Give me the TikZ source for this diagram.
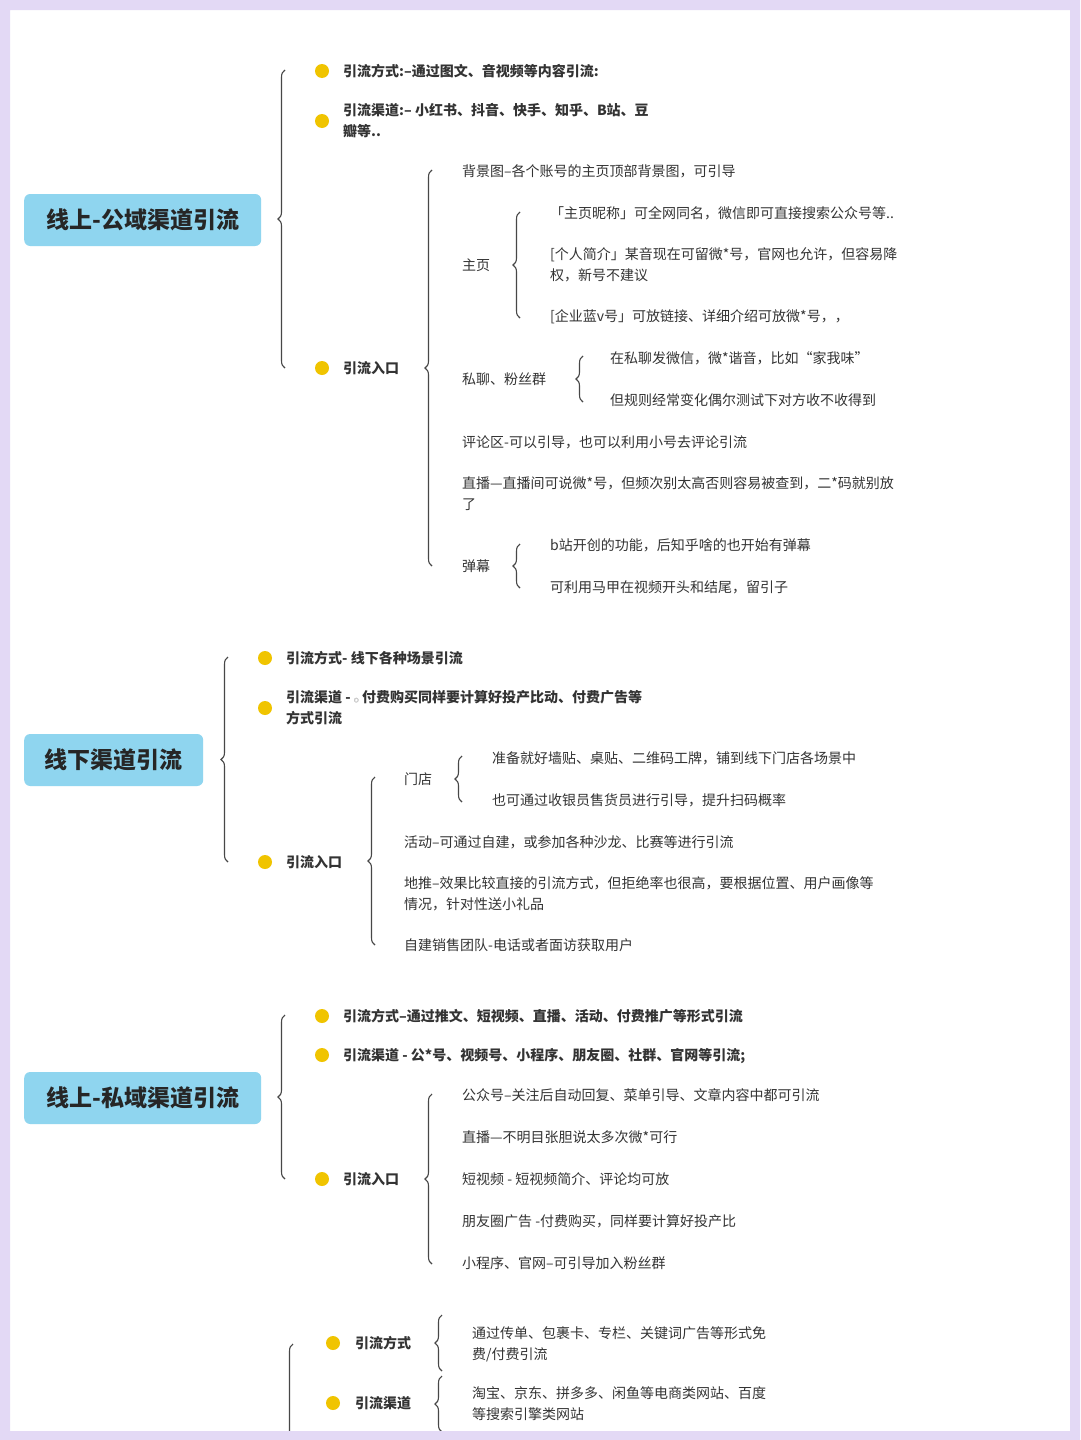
\documentclass[tikz,border=0pt]{standalone}
\usepackage{fontspec}
\setmainfont{Noto Sans CJK SC}
\usetikzlibrary{decorations.pathreplacing}
\definecolor{lav}{HTML}{E3D9F5}
\definecolor{tbox}{HTML}{8FD5EF}
\definecolor{dot}{HTML}{F0C400}
\definecolor{txt}{HTML}{333333}
\tikzset{
  br/.style={draw=txt!90,line width=1.1pt,decorate,decoration={brace,amplitude=7pt}},
  title/.style={fill=tbox,rounded corners=6pt,anchor=west,minimum height=52pt,inner xsep=18pt,font=\fontsize{23}{26}\selectfont\bfseries,text=black!85},
  b/.style={anchor=west,font=\fontsize{14}{21}\selectfont\bfseries,text=txt,align=left,inner sep=0pt},
  t/.style={anchor=west,font=\fontsize{14}{21}\selectfont,text=txt,align=left,inner sep=0pt},
  dt/.style={fill=dot,circle,minimum size=14pt,inner sep=0pt}
}
\begin{document}
\begin{tikzpicture}[x=1pt,y=-1pt]
\useasboundingbox (0,0) rectangle (1080,1440);
\fill[white] (0,0) rectangle (1080,1440);
% ===== Section 1
\node[title,minimum width=237pt] (s1) at (24,220) {线上-公域渠道引流};
\coordinate (s1a) at (285,70); \coordinate (s1b) at (285,368);
\draw[br] (s1b) -- (s1a);
\node[dt] (d11) at (322,71) {}; \node[b] (b11) at (343,71) {引流方式:--通过图文、音视频等内容引流:};
\node[dt] (d12) at (322,121) {}; \node[b] (b12) at (343,121) {引流渠道:-- 小红书、抖音、快手、知乎、B站、豆\\瓣等..};
\node[dt] (d13) at (322,368) {}; \node[b] (b13) at (343,368) {引流入口};
\coordinate (e1a) at (432,170); \coordinate (e1b) at (432,566);
\draw[br] (e1b) -- (e1a);
\node[t] (i1) at (462,171) {背景图--各个账号的主页顶部背景图，可引导};
\node[t] (i2) at (462,265) {主页};
\node[t] (i3) at (462,379) {私聊、粉丝群};
\node[t] (i4) at (462,442) {评论区-可以引导，也可以利用小号去评论引流};
\node[t] (i5) at (462,494) {直播---直播间可说微*号，但频次别太高否则容易被查到，二*码就别放\\了};
\node[t] (i6) at (462,566) {弹幕};
\coordinate (z1) at (520,212); \coordinate (z2) at (520,318);
\draw[br] (z2) -- (z1);
\node[t] (z11) at (550,213) {「主页昵称」可全网同名，微信即可直接搜索公众号等..};
\node[t] (z12) at (550,265) {[个人简介」某音现在可留微*号，官网也允许，但容易降\\权，新号不建议};
\node[t] (z13) at (550,317) {[企业蓝v号」可放链接、详细介绍可放微*号，，};
\coordinate (p1) at (583,356); \coordinate (p2) at (583,402);
\draw[br] (p2) -- (p1);
\node[t] (p11) at (610,358) {在私聊发微信，微*谐音，比如“家我味”};
\node[t] (p12) at (610,400) {但规则经常变化偶尔测试下对方收不收得到};
\coordinate (m1) at (520,544); \coordinate (m2) at (520,588);
\draw[br] (m2) -- (m1);
\node[t] (m11) at (550,545) {b站开创的功能，后知乎啥的也开始有弹幕};
\node[t] (m12) at (550,587) {可利用马甲在视频开头和结尾，留引子};
% ===== Section 2
\node[title,minimum width=179pt] (s2) at (24,760) {线下渠道引流};
\coordinate (s2a) at (228,657); \coordinate (s2b) at (228,862);
\draw[br] (s2b) -- (s2a);
\node[dt] (d21) at (265,658) {}; \node[b] (b21) at (286,658) {引流方式- 线下各种场景引流};
\node[dt] (d22) at (265,708) {}; \node[b] (b22) at (286,708) {引流渠道 - {\mdseries\tiny ◎} 付费购买同样要计算好投产比动、付费广告等\\方式引流};
\node[dt] (d23) at (265,862) {}; \node[b] (b23) at (286,862) {引流入口};
\coordinate (e2a) at (375,777); \coordinate (e2b) at (375,945);
\draw[br] (e2b) -- (e2a);
\node[t] (j1) at (404,779) {门店};
\node[t] (j2) at (404,842) {活动--可通过自建，或参加各种沙龙、比赛等进行引流};
\node[t] (j3) at (404,894) {地推--效果比较直接的引流方式，但拒绝率也很高，要根据位置、用户画像等\\情况，针对性送小礼品};
\node[t] (j4) at (404,945) {自建销售团队-电话或者面访获取用户};
\coordinate (g1) at (462,756); \coordinate (g2) at (462,802);
\draw[br] (g2) -- (g1);
\node[t] (g11) at (492,758) {准备就好墙贴、桌贴、二维码工牌，铺到线下门店各场景中};
\node[t] (g12) at (492,800) {也可通过收银员售货员进行引导，提升扫码概率};
% ===== Section 3
\node[title,minimum width=237pt] (s3) at (24,1098) {线上-私域渠道引流};
\coordinate (s3a) at (285,1015); \coordinate (s3b) at (285,1179);
\draw[br] (s3b) -- (s3a);
\node[dt] (d31) at (322,1016) {}; \node[b] (b31) at (343,1016) {引流方式--通过推文、短视频、直播、活动、付费推广等形式引流};
\node[dt] (d32) at (322,1055) {}; \node[b] (b32) at (343,1056) {引流渠道 - 公*号、视频号、小程序、朋友圈、社群、官网等引流;};
\node[dt] (d33) at (322,1179) {}; \node[b] (b33) at (343,1179) {引流入口};
\coordinate (e3a) at (432,1094); \coordinate (e3b) at (432,1264);
\draw[br] (e3b) -- (e3a);
\node[t] (k1) at (462,1095) {公众号--关注后自动回复、菜单引导、文章内容中都可引流};
\node[t] (k2) at (462,1137) {直播---不明目张胆说太多次微*可行};
\node[t] (k3) at (462,1179) {短视频 - 短视频简介、评论均可放};
\node[t] (k4) at (462,1221) {朋友圈广告 -付费购买，同样要计算好投产比};
\node[t] (k5) at (462,1263) {小程序、官网--可引导加入粉丝群};
% ===== Section 4
\coordinate (s4a) at (293,1344); \coordinate (s4b) at (293,1560);
\draw[br] (s4b) -- (s4a);
\node[dt] (d41) at (333,1343) {}; \node[b] (b41) at (355,1343) {引流方式};
\node[dt] (d42) at (333,1403) {}; \node[b] (b42) at (355,1403) {引流渠道};
\coordinate (f1) at (442,1315); \coordinate (f2) at (442,1371);
\draw[br] (f2) -- (f1);
\coordinate (h1) at (442,1376); \coordinate (h2) at (442,1432);
\draw[br] (h2) -- (h1);
\node[t] (f11) at (472,1344) {通过传单、包裹卡、专栏、关键词广告等形式免\\费/付费引流};
\node[t] (h11) at (472,1404) {淘宝、京东、拼多多、闲鱼等电商类网站、百度\\等搜索引擎类网站};
% frame
\fill[lav,even odd rule] (0,0) rectangle (1080,1440) (10,10) rectangle (1070,1431);
\end{tikzpicture}
\end{document}
